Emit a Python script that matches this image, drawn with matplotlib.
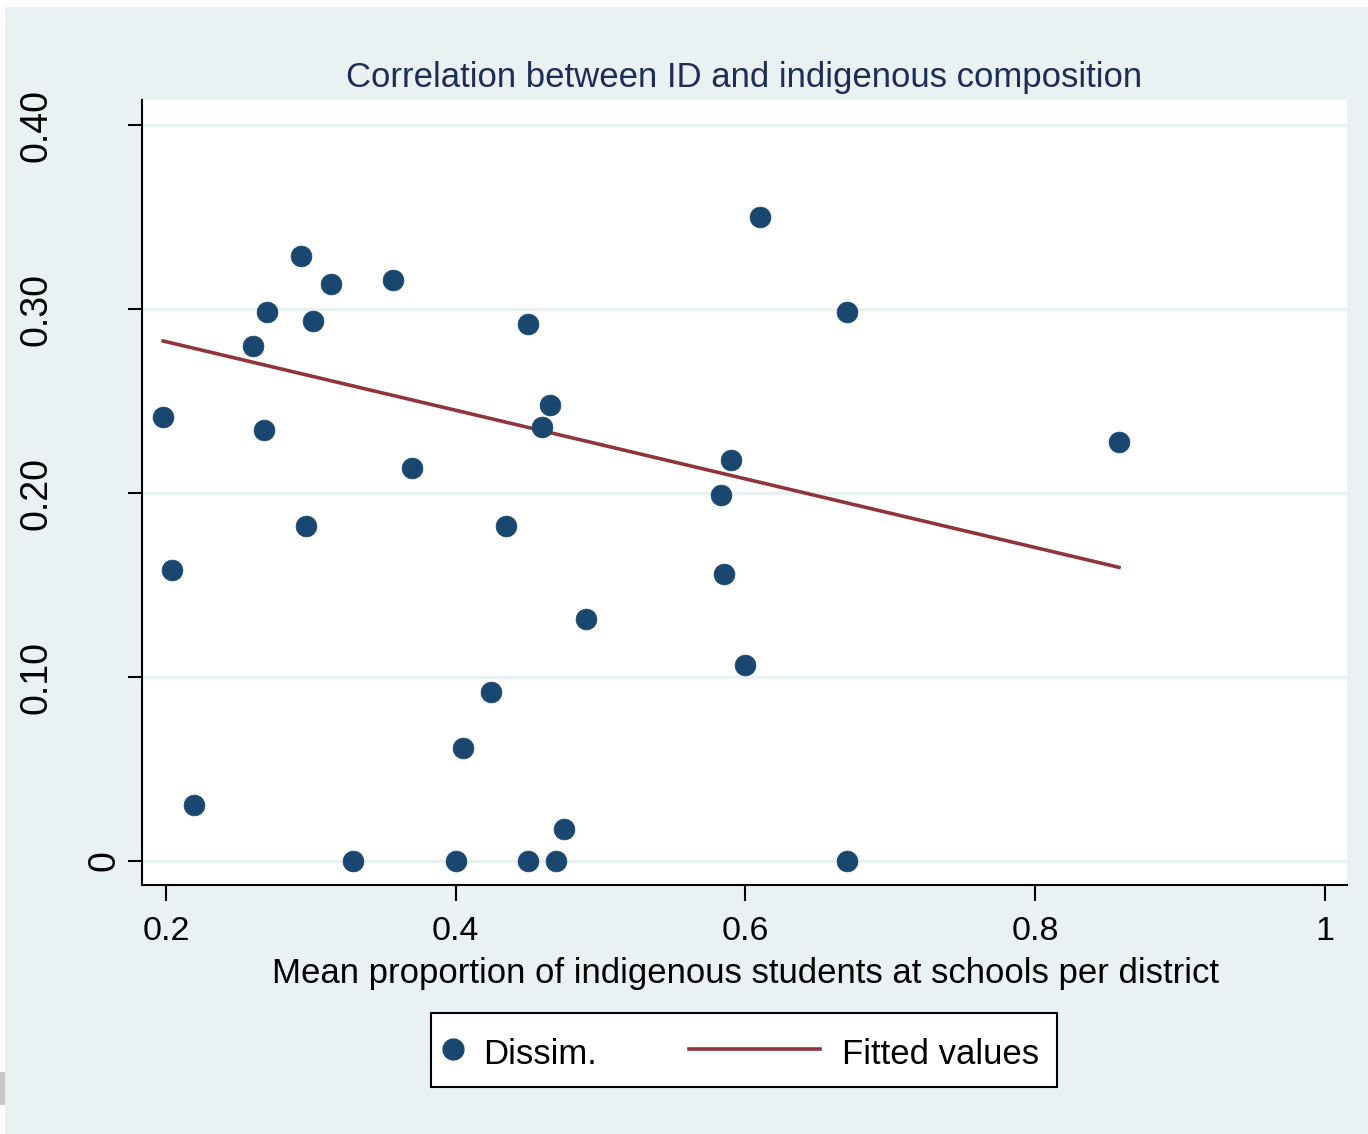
import matplotlib
matplotlib.use('Agg')
import matplotlib.pyplot as plt
from matplotlib.patches import Rectangle
from matplotlib.lines import Line2D
import matplotlib.transforms as mtrans

plt.rcParams['font.family'] = ['Liberation Sans', 'DejaVu Sans']

# ---------------- data ----------------
title = "Correlation between ID and indigenous composition"
x_label = "Mean proportion of indigenous students at schools per district"
legend_labels = ["Dissim.", "Fitted values"]

prop_indigenous = [0.1981, 0.2043, 0.2195, 0.2600, 0.2695, 0.2676, 0.2930, 0.3017,
                   0.2966, 0.3141, 0.3293, 0.3567, 0.3698, 0.4002, 0.4050, 0.4243,
                   0.4347, 0.4499, 0.4499, 0.4595, 0.4651, 0.4692, 0.4747, 0.4899,
                   0.5831, 0.5852, 0.5900, 0.5997, 0.6100, 0.6701, 0.6701, 0.8578]
dissim = [0.2413, 0.1582, 0.0303, 0.2797, 0.2985, 0.2344, 0.3288, 0.2933,
          0.1819, 0.3134, 0.0000, 0.3156, 0.2134, 0.0000, 0.0614, 0.0918,
          0.1823, 0.2916, 0.0000, 0.2360, 0.2481, 0.0000, 0.0174, 0.1315,
          0.1990, 0.1560, 0.2179, 0.1066, 0.3501, 0.2984, 0.0000, 0.2276]

fit_x = [0.1981, 0.8578]
fit_y = [0.2826, 0.1596]

x_ticks = [0.2, 0.4, 0.6, 0.8, 1.0]
x_tick_labels = ["0.2", "0.4", "0.6", "0.8", "1"]
y_ticks = [0.0, 0.1, 0.2, 0.3, 0.4]
y_tick_labels = ["0", "0.10", "0.20", "0.30", "0.40"]

# ---------------- style ----------------
W, H = 1368, 1134
BG = '#EAF1F3'
NAVY = '#1a476f'
MAROON = '#90353b'
TITLE_C = '#1e2d55'

fig = plt.figure(figsize=(W / 100, H / 100), dpi=100)
fig.patch.set_facecolor('white')

def px_x(p):
    return p / W

def px_y(p):
    return (H - p) / H

# graph region background
fig.patches.append(Rectangle((px_x(5), 0), (W - 5) / W, (H - 7) / H,
                             transform=fig.transFigure, facecolor=BG,
                             edgecolor='none', zorder=-10))
fig.patches.append(Rectangle((0, px_y(1105)), 5 / W, 33 / H,
                             transform=fig.transFigure, facecolor='#c8c8c8',
                             edgecolor='none', zorder=-9))

ax = fig.add_axes([px_x(142), px_y(885), (1347 - 142) / W, (885 - 100) / H])
ax.set_facecolor('white')
ax.set_xlim(0.18343, 1.0152)
ax.set_ylim(-0.01304, 0.41359)

ax.set_yticks(y_ticks)
ax.set_xticks(x_ticks)
ax.set_xticklabels(x_tick_labels)
ax.yaxis.grid(True, color=BG, linewidth=2.4)
ax.xaxis.grid(False)
ax.set_axisbelow(True)

for s in ['top', 'right']:
    ax.spines[s].set_visible(False)
for s in ['left', 'bottom']:
    ax.spines[s].set_linewidth(1.5)
    ax.spines[s].set_color('black')

ax.tick_params(axis='x', length=11.5, width=1.5, direction='out', pad=11,
               labelsize=24.5, colors='black')
ax.tick_params(axis='y', length=10, width=1.5, direction='out', labelleft=False)

# y tick labels (rotated, Stata-like placement)
ytrans = mtrans.blended_transform_factory(fig.transFigure, ax.transData)
for v, lab in zip(y_ticks, y_tick_labels):
    right_px = 122 if len(lab) == 1 else 55
    ax.text(px_x(right_px), v, lab, transform=ytrans, rotation=90,
            ha='right', va='center', fontsize=27, color='black', clip_on=False)

# data
ax.plot(prop_indigenous, dissim, linestyle='none', marker='o', markersize=15,
        markerfacecolor=NAVY, markeredgecolor=NAVY, markeredgewidth=0.5, zorder=3)
ax.plot(fit_x, fit_y, color=MAROON, linewidth=2.6, zorder=2)

# titles
fig.text(px_x(744.5), px_y(87), title, ha='center', va='baseline',
         fontsize=25, color=TITLE_C)
fig.text(px_x(745), px_y(983), x_label, ha='center', va='baseline',
         fontsize=25, color='black')

# legend (Stata-style box)
fig.patches.append(Rectangle((px_x(431), px_y(1087)), 626 / W, 74 / H,
                             transform=fig.transFigure, facecolor='white',
                             edgecolor='black', linewidth=1.5, zorder=5))
fig.add_artist(Line2D([px_x(453)], [px_y(1049)], transform=fig.transFigure,
                      linestyle='none', marker='o', markersize=15,
                      markerfacecolor=NAVY, markeredgecolor=NAVY, zorder=6))
fig.text(px_x(483), px_y(1064), legend_labels[0], ha='left', va='baseline',
         fontsize=25, color='black', zorder=6)
fig.add_artist(Line2D([px_x(689), px_x(820)], [px_y(1049), px_y(1049)],
                      transform=fig.transFigure, color=MAROON, linewidth=2.6,
                      zorder=6))
fig.text(px_x(842), px_y(1064), legend_labels[1], ha='left', va='baseline',
         fontsize=25, color='black', zorder=6)

fig.savefig('out.png', dpi=100, facecolor=fig.get_facecolor())
